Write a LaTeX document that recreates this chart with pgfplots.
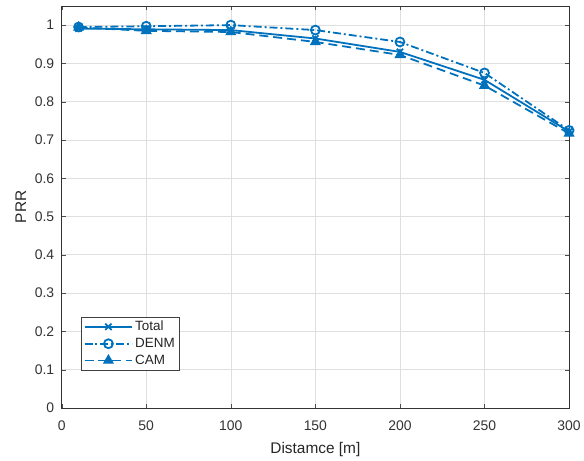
\documentclass[border=0pt]{standalone}
\usepackage{pgfplots}
\pgfplotsset{compat=1.18}
\usepackage{fontspec}
\setmainfont{Liberation Sans}
\definecolor{mblue}{rgb}{0,0.447,0.741}
\begin{document}
\begin{tikzpicture}
\begin{axis}[
  name=ax,
  scale only axis,
  width=510pt, height=404pt,
  xmin=0, xmax=300, ymin=0, ymax=1.05,
  xtick={0,50,...,300},
  ytick={0,0.1,...,1.0},
  yticklabels={0,0.1,0.2,0.3,0.4,0.5,0.6,0.7,0.8,0.9,1},
  grid=major,
  grid style={gray!25, line width=0.6pt},
  axis line style={black!80, line width=0.7pt},
  tick align=inside,
  major tick length=4pt,
  tick style={black!70},
  ticklabel style={font=\fontsize{14}{16}\selectfont, text=black!80},
  xticklabel style={yshift=-9pt},
  yticklabel style={xshift=-4pt},
  /pgf/number format/assume math mode=true,
  xlabel={Distamce [m]}, ylabel={PRR},
  label style={font=\fontsize{15.5}{17}\selectfont, text=black!85},
  xlabel style={yshift=-5pt},
  ylabel style={yshift=2pt},
  legend style={at={(0.039,0.094)}, anchor=south west, font=\fontsize{13.5}{15}\selectfont,
    draw=black!75, row sep=2pt, inner sep=2pt, text=black!85},
  legend cell align=left,
  legend image code/.code={\draw[mark repeat=2,mark phase=2,#1] plot coordinates {(0pt,0pt) (24pt,0pt) (48pt,0pt)};},
]
\addplot[color=mblue, line width=1.8pt, mark=x, mark size=4.5pt, mark options={solid, line width=1.8pt}] coordinates {
(10,0.991) (50,0.989) (100,0.987) (150,0.965) (200,0.930) (250,0.857) (300,0.722)};
\addlegendentry{Total}
\addplot[color=mblue, line width=1.8pt, dash pattern=on 8pt off 3pt on 2pt off 3pt, mark=o, mark size=4.5pt, mark options={solid, line width=1.8pt}] coordinates {
(10,0.995) (50,0.997) (100,1.0) (150,0.987) (200,0.956) (250,0.875) (300,0.725)};
\addlegendentry{DENM}
\addplot[color=mblue, line width=1.8pt, dash pattern=on 9pt off 5pt, mark=triangle*, mark size=5.5pt, mark options={solid, line width=1pt, fill=mblue}] coordinates {
(10,0.994) (50,0.985) (100,0.982) (150,0.956) (200,0.922) (250,0.842) (300,0.717)};
\addlegendentry{CAM}
\end{axis}
\path ([xshift=-62pt,yshift=-53pt]ax.south west) rectangle ([xshift=12pt,yshift=6pt]ax.north east);
\end{tikzpicture}
\end{document}
